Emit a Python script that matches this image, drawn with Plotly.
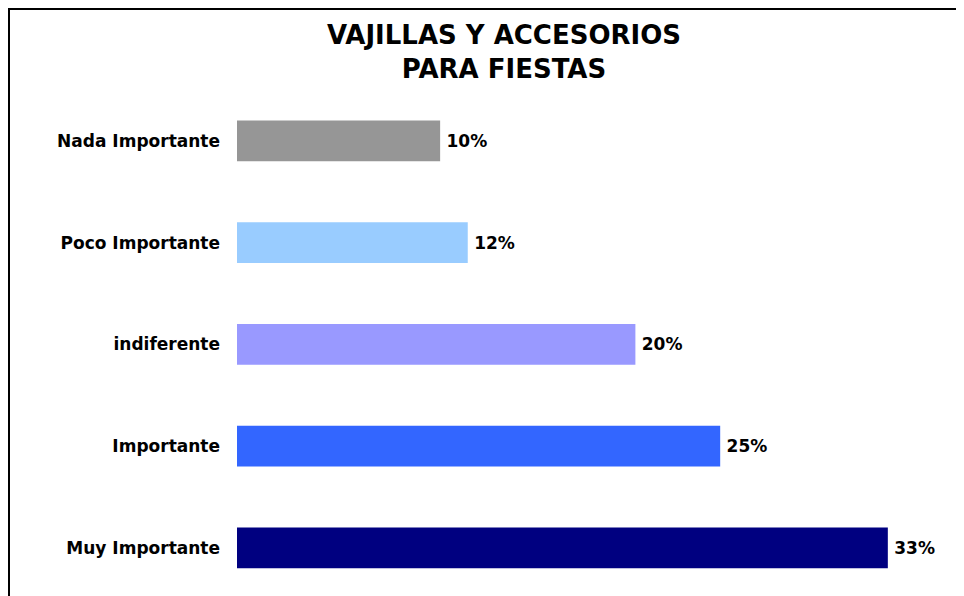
import plotly.graph_objects as go

# categories from top to bottom, as in the picture
categories = ["Nada Importante", "Poco Importante", "indiferente", "Importante", "Muy Importante"]
values = [10.3, 11.7, 20.2, 24.5, 33.0]
bar_colors = ["#969696", "#99CCFF", "#9999FF", "#3366FF", "#000080"]

# the page adds an 8px body margin, so the figure is 8px smaller
OFF = 8
W, H = 964 - OFF, 596 - OFF
left, top, right = 237 - OFF, 90 - OFF, 17
plot_w = W - left - right
plot_h = H - top


def px_x(px):
    # screen column -> paper x
    return (px - OFF - left) / plot_w


def px_y(py):
    # screen row -> paper y
    return (H - (py - OFF)) / plot_h


fig = go.Figure()

fig.add_trace(go.Bar(
    x=values,
    y=categories,
    orientation="h",
    marker=dict(color=bar_colors, line=dict(width=0)),
    texttemplate="\u2009%{x:.0f}%",
    textposition="outside",
    textfont=dict(family="DejaVu Sans", size=17, color="black", weight="bold"),
    cliponaxis=False,
    hoverinfo="skip",
))

fig.update_layout(
    width=W,
    height=H,
    margin=dict(l=left, r=right, t=top, b=0, pad=0),
    paper_bgcolor="white",
    plot_bgcolor="white",
    bargap=0.6,
    showlegend=False,
    title=dict(
        text="VAJILLAS Y ACCESORIOS<br>PARA FIESTAS",
        font=dict(family="DejaVu Sans", size=26, color="black", weight="bold"),
        x=(504 - OFF) / W,
        xanchor="center",
        xref="container",
        y=1 - 36 / H,
        yanchor="top",
        yref="container",
    ),
    xaxis=dict(
        range=[0, 36],
        visible=False,
        fixedrange=True,
    ),
    yaxis=dict(
        range=[4.473, -0.5],
        showgrid=False,
        zeroline=False,
        showline=False,
        ticks="",
        ticklabelstandoff=16,
        tickfont=dict(family="DejaVu Sans", size=17, color="black", weight="bold"),
        fixedrange=True,
    ),
    shapes=[dict(
        type="rect",
        xref="paper",
        yref="paper",
        x0=px_x(9),
        x1=px_x(975),
        y0=px_y(610),
        y1=px_y(9),
        line=dict(color="black", width=2),
        fillcolor="rgba(0,0,0,0)",
        layer="above",
    )],
)

fig.write_html("out.html")
